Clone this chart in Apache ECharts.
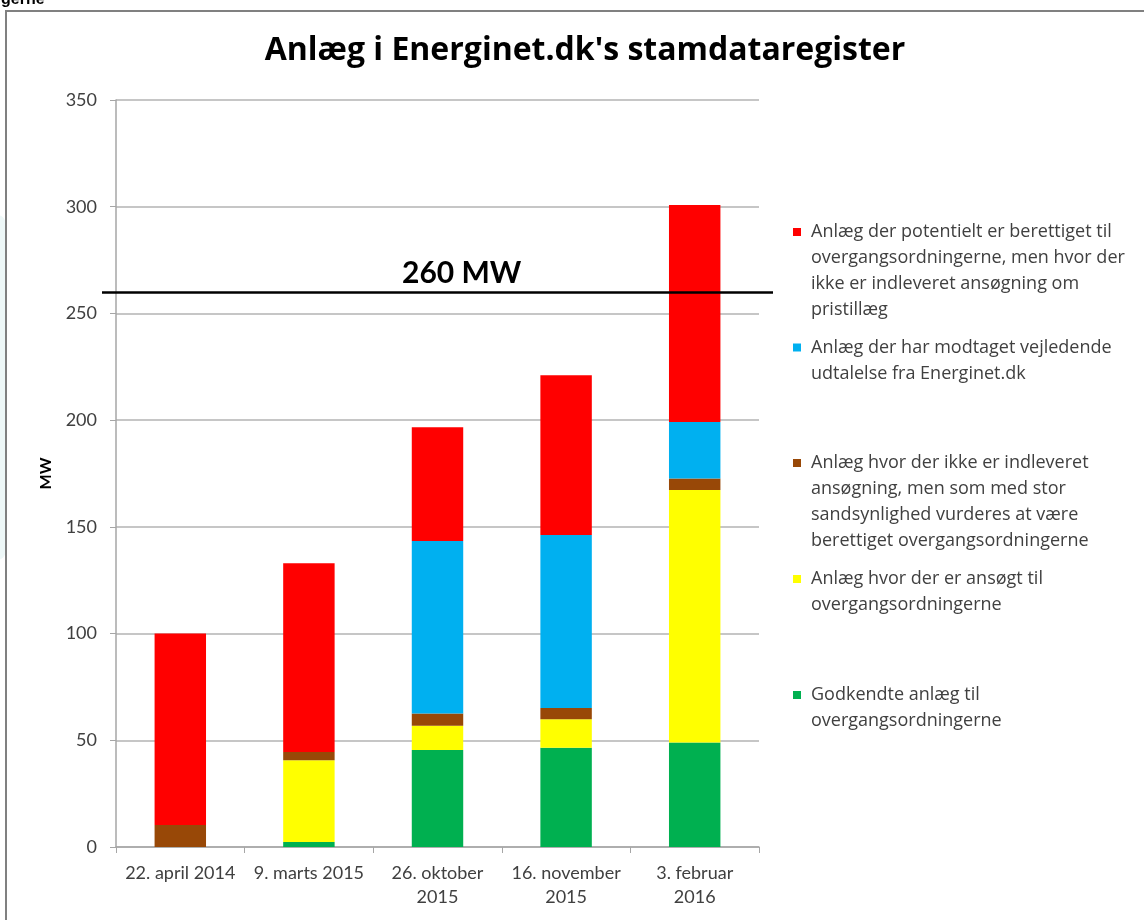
<!DOCTYPE html>
<html>
<head>
<meta charset="utf-8">
<title>Anlæg i Energinet.dk's stamdataregister</title>
<script src="https://cdn.jsdelivr.net/npm/echarts@6/dist/echarts.min.js"></script>
<style>
  html, body { margin: 0; padding: 0; background: #fff; }
  #main { width: 1144px; height: 920px; }
</style>
</head>
<body>
<div id="main"></div>
<script>
// x-axis tick labels (wrapped like the original)
const categories = ['22. april 2014', '9. marts 2015', '26. oktober\n2015', '16. november\n2015', '3. februar\n2016'];

// stacked values in MW, bottom to top
const godkendte = [0, 2.3, 45.4, 46.5, 49.0];
const ansoegt = [0, 38.3, 11.4, 13.3, 118.3];
const ikkeIndleveret = [10.3, 3.9, 5.7, 5.3, 5.3];
const vejledende = [0, 0, 80.9, 81.1, 26.5];
const potentielt = [89.7, 88.4, 53.3, 74.8, 101.7];

const thresholdValue = 260;
const thresholdLabel = '260 MW';

// legend text, line by line
const lgPotentielt = ['Anlæg der potentielt er berettiget til', 'overgangsordningerne, men hvor der', 'ikke er indleveret ansøgning om', 'pristillæg'];
const lgVejledende = ['Anlæg der har modtaget vejledende', 'udtalelse fra Energinet.dk'];
const lgIkke = ['Anlæg hvor der ikke er indleveret', 'ansøgning, men som med stor', 'sandsynlighed vurderes at være', 'berettiget overgangsordningerne'];
const lgAnsoegt = ['Anlæg hvor der er ansøgt til', 'overgangsordningerne'];
const lgGodkendte = ['Godkendte anlæg til', 'overgangsordningerne'];

const FONT = 'Lato';
const LEG_FONT = 'Open Sans';
const TXT = '#404040';

const stackDefs = [
  { lines: lgGodkendte, data: godkendte, color: '#00B050' },
  { lines: lgAnsoegt, data: ansoegt, color: '#FFFF00' },
  { lines: lgIkke, data: ikkeIndleveret, color: '#984807' },
  { lines: lgVejledende, data: vejledende, color: '#00B0F0' },
  { lines: lgPotentielt, data: potentielt, color: '#FF0000' }
];

const series = stackDefs.map(d => ({
  name: d.lines.join(' '),
  type: 'bar',
  stack: 'total',
  barWidth: '40%',
  itemStyle: { color: d.color },
  data: d.data
}));

// 260 MW reference line, drawn on its own (hidden) grid that is a bit wider
series.push({
  name: 'grænse',
  type: 'line',
  xAxisIndex: 1,
  yAxisIndex: 1,
  data: [],
  silent: true,
  markLine: {
    silent: true,
    symbol: ['none', 'none'],
    lineStyle: { color: '#000', width: 2.5, type: 'solid' },
    label: {
      show: true,
      position: 'insideStartTop',
      distance: [300, 4],
      formatter: thresholdLabel,
      color: '#000',
      fontFamily: FONT,
      fontWeight: 'bold',
      fontSize: 30
    },
    emphasis: { disabled: true },
    data: [{ yAxis: thresholdValue }]
  }
});

// one legend per entry, top-to-bottom order is reversed stack order
const legendTops = [232, 347.5, 463, 579, 695];
const legends = stackDefs.slice().reverse().map((d, i) => ({
  orient: 'vertical',
  left: 788,
  top: legendTops[i] - 13,
  padding: 0,
  icon: 'none',
  itemWidth: 0,
  itemHeight: 8,
  selectedMode: false,
  data: [d.lines.join(' ')],
  formatter: () => d.lines.map((l, k) => (k === 0 ? '{sq| }{gap| }' : '{ind| }') + '{t|' + l + '}').join('\n'),
  textStyle: {
    fontFamily: LEG_FONT,
    fontSize: 18,
    color: TXT,
    lineHeight: 26,
    rich: {
      sq: { width: 8, height: 8, backgroundColor: d.color, verticalAlign: 'middle' },
      gap: { width: 10 },
      ind: { width: 18 },
      t: { fontFamily: LEG_FONT, fontSize: 18, color: TXT, lineHeight: 26 }
    }
  }
}));

const chart = echarts.init(document.getElementById('main'));
chart.setOption({
  backgroundColor: '#fff',
  animation: false,
  title: {
    text: "Anlæg i Energinet.dk's stamdataregister",
    left: 580,
    textAlign: 'center',
    top: 30,
    textStyle: { fontFamily: 'Open Sans', fontWeight: 'bold', fontSize: 32, color: '#000' }
  },
  legend: legends,
  grid: [
    { left: 116, right: 385, top: 100, bottom: 73 },
    { left: 102, right: 371, top: 100, bottom: 73 }
  ],
  xAxis: [
    {
      type: 'category',
      data: categories,
      gridIndex: 0,
      axisLine: { lineStyle: { color: '#a6a6a6', width: 1.5 } },
      axisTick: { show: true, length: 6, lineStyle: { color: '#a6a6a6' } },
      axisLabel: { fontFamily: FONT, fontSize: 18, color: TXT, lineHeight: 24, margin: 14, interval: 0 }
    },
    { type: 'value', gridIndex: 1, min: 0, max: 1, show: false }
  ],
  yAxis: [
    {
      type: 'value',
      gridIndex: 0,
      min: 0,
      max: 350,
      interval: 50,
      name: 'MW',
      nameLocation: 'middle',
      nameRotate: 90,
      nameGap: 62,
      nameTextStyle: { fontFamily: FONT, fontWeight: 'bold', fontSize: 16, color: '#000' },
      axisLine: { show: true, lineStyle: { color: '#a6a6a6', width: 1.5 } },
      axisTick: { show: true, length: 6, lineStyle: { color: '#a6a6a6' } },
      splitLine: { lineStyle: { color: '#b3b3b3', width: 1.5 } },
      axisLabel: { fontFamily: FONT, fontSize: 18, color: TXT, margin: 19 }
    },
    { type: 'value', gridIndex: 1, min: 0, max: 350, show: false }
  ],
  graphic: [
    { type: 'rect', z: -1, shape: { x: -12, y: 215, width: 18, height: 345, r: 9 }, style: { fill: '#eef8f8' } },
    { type: 'rect', shape: { x: 6, y: 11, width: 1150, height: 930 }, style: { fill: null, stroke: '#808080', lineWidth: 2 } },
    { type: 'text', x: 1, y: 8, style: { text: 'gerne', fontFamily: 'Liberation Sans', fontWeight: 'bold', fontSize: 16, fill: '#000', verticalAlign: 'bottom' } }
  ],
  series: series
});
</script>
</body>
</html>
